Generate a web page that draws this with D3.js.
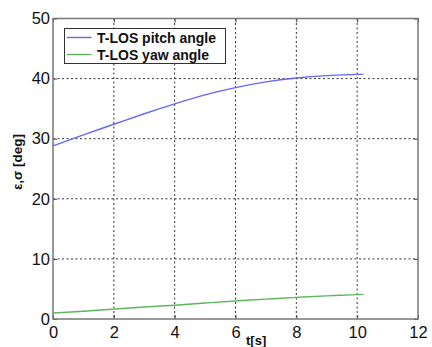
<!DOCTYPE html>
<html>
<head>
<meta charset="utf-8">
<script src="https://cdn.jsdelivr.net/npm/d3@7"></script>
<style>
  html, body { margin: 0; padding: 0; background: #fff; }
  svg { display: block; }
</style>
</head>
<body>
<svg id="chart" width="432" height="347"></svg>
<script>
// Time samples [s]
const time = [0, 1, 2, 3, 4, 5, 6, 7, 8, 9, 10, 10.2];
// T-LOS pitch angle [deg]
const pitch = [28.8, 30.65, 32.4, 34.15, 35.8, 37.3, 38.5, 39.45, 40.1, 40.5, 40.7, 40.65];
// T-LOS yaw angle [deg]
const yaw = [1.0, 1.3, 1.65, 2.0, 2.3, 2.65, 3.0, 3.3, 3.6, 3.85, 4.05, 4.1];

const xTicks = [0, 2, 4, 6, 8, 10, 12];
const yTicks = [0, 10, 20, 30, 40, 50];
const seriesNames = ["T-LOS pitch angle", "T-LOS yaw angle"];
const seriesColors = ["#6666ff", "#5cb85c"];

const svg = d3.select("#chart");
const plotLeft = 53, plotRight = 418, plotTop = 18.5, plotBottom = 319;
const font = "Liberation Sans, Arial, sans-serif";

const x = d3.scaleLinear().domain([0, 12]).range([plotLeft, plotRight]);
const y = d3.scaleLinear().domain([0, 50]).range([plotBottom, plotTop]);

// Dotted grid
const grid = svg.append("g").attr("stroke", "#333").attr("stroke-width", 1)
  .attr("stroke-dasharray", "2,2.5");
xTicks.slice(1, -1).forEach(t => {
  grid.append("line").attr("x1", x(t)).attr("x2", x(t)).attr("y1", plotTop).attr("y2", plotBottom);
});
yTicks.slice(1, -1).forEach(t => {
  grid.append("line").attr("x1", plotLeft).attr("x2", plotRight).attr("y1", y(t)).attr("y2", y(t));
});

// Axes with inward ticks on all four sides
const axisStyle = g => {
  g.select(".domain").remove();
  g.selectAll(".tick line").attr("stroke", "#444");
  g.selectAll(".tick text").attr("fill", "#111")
    .attr("font-family", font).attr("font-size", 16.5);
};
svg.append("g").attr("transform", `translate(0,${plotBottom})`)
  .call(d3.axisBottom(x).tickValues(xTicks).tickSizeInner(-4).tickSizeOuter(0).tickPadding(7))
  .call(axisStyle);
svg.append("g").attr("transform", `translate(${plotLeft},0)`)
  .call(d3.axisLeft(y).tickValues(yTicks).tickSizeInner(-4).tickSizeOuter(0).tickPadding(3))
  .call(axisStyle);
svg.append("g").attr("transform", `translate(0,${plotTop})`)
  .call(d3.axisTop(x).tickValues(xTicks).tickSizeInner(-4).tickSizeOuter(0).tickFormat(""))
  .call(axisStyle);
svg.append("g").attr("transform", `translate(${plotRight},0)`)
  .call(d3.axisRight(y).tickValues(yTicks).tickSizeInner(-4).tickSizeOuter(0).tickFormat(""))
  .call(axisStyle);

// Frame
svg.append("rect").attr("x", plotLeft).attr("y", plotTop)
  .attr("width", plotRight - plotLeft).attr("height", plotBottom - plotTop)
  .attr("fill", "none").attr("stroke", "#777").attr("stroke-width", 1.5);

// Curves
const line = d3.line().x(d => x(d[0])).y(d => y(d[1])).curve(d3.curveNatural);
[pitch, yaw].forEach((vals, i) => {
  svg.append("path").datum(time.map((t, k) => [t, vals[k]]))
    .attr("d", line).attr("fill", "none")
    .attr("stroke", seriesColors[i]).attr("stroke-width", 1.4);
});

// Legend
const lg = svg.append("g");
lg.append("rect").attr("x", 64.5).attr("y", 28.5).attr("width", 161).attr("height", 35)
  .attr("fill", "#fff").attr("stroke", "#333").attr("stroke-width", 1);
seriesNames.forEach((name, i) => {
  const yy = 37.5 + i * 17;
  lg.append("line").attr("x1", 67).attr("x2", 91.5).attr("y1", yy).attr("y2", yy)
    .attr("stroke", seriesColors[i]).attr("stroke-width", 1.4);
  lg.append("text").attr("x", 97).attr("y", yy + 5).text(name)
    .attr("font-family", font)
    .attr("font-weight", "bold").attr("font-size", 14).attr("fill", "#111");
});

// Axis labels
svg.append("text").attr("x", 246).attr("y", 345).text("t[s]")
  .attr("font-family", font)
  .attr("font-weight", "bold").attr("font-size", 13).attr("fill", "#111");
svg.append("text").attr("transform", "translate(22,162) rotate(-90)")
  .attr("text-anchor", "middle").text("ε,σ [deg]")
  .attr("font-family", font)
  .attr("font-weight", "bold").attr("font-size", 13.5).attr("fill", "#111");
</script>
</body>
</html>
